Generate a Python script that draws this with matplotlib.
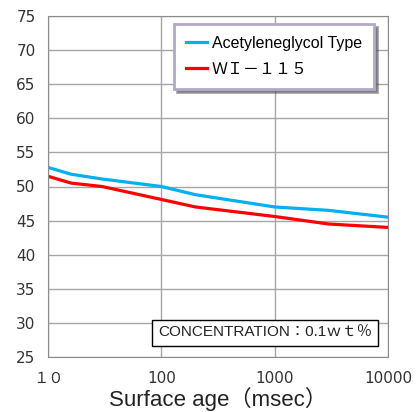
import numpy as np
import matplotlib
matplotlib.use('Agg')
import matplotlib.pyplot as plt

plt.rcParams['font.family'] = ['Liberation Sans', 'Noto Sans CJK JP', 'DejaVu Sans']

# surface age (msec) and surface tension readings
age_ms = [10, 16, 30, 100, 200, 1000, 3000, 10000]
acetylene = [52.8, 51.8, 51.1, 50.0, 48.8, 47.0, 46.5, 45.5]
wi115 = [51.5, 50.5, 50.0, 48.1, 47.0, 45.6, 44.5, 44.0]

xticks = [10, 100, 1000, 10000]
xticklabels = ['１０', '100', '1000', '10000']
yticks = list(range(25, 80, 5))

fig = plt.figure(figsize=(4.19, 4.12), dpi=100)
ax = fig.add_axes([48 / 419, 1 - 357 / 412, 340 / 419, 341 / 412])

ax.plot(age_ms, acetylene, color='#00b0f0', lw=2.3, label='Acetyleneglycol Type')
ax.plot(age_ms, wi115, color='#ff0000', lw=2.3, label='ＷＩ－１１５')

ax.set_xscale('log')
ax.set_xlim(10, 10000)
ax.set_ylim(25, 75)
ax.set_xticks(xticks)
ax.set_xticklabels(xticklabels)
ax.xaxis.set_minor_locator(matplotlib.ticker.NullLocator())
ax.set_yticks(yticks)
ax.tick_params(length=0, labelsize=11, colors='#333333')
for lbl in ax.get_xticklabels() + ax.get_yticklabels():
    lbl.set_family(['DejaVu Sans', 'Noto Sans CJK JP'])
ax.tick_params(axis='x', pad=10)
ax.tick_params(axis='y', pad=9)
ax.grid(True, color='#a6a6a6', lw=1)
ax.set_axisbelow(True)
for s in ax.spines.values():
    s.set_color('#8c8c8c')

ax.set_xlabel('Surface age（msec）', fontsize=16, color='#222222', labelpad=1)

leg = ax.legend(loc='upper right', bbox_to_anchor=(0.959, 0.977), fancybox=False,
                shadow=True, fontsize=11.5, handlelength=1.3, handletextpad=0.3,
                borderpad=0.75, labelspacing=0.7, borderaxespad=0)
leg.get_frame().set_edgecolor('#b4a8c8')
leg.get_frame().set_linewidth(2)

ax.text(0.638, 0.070, 'CONCENTRATION：0.1ｗｔ％', transform=ax.transAxes,
        ha='center', va='center', fontsize=11, color='#222222',
        bbox=dict(boxstyle='square,pad=0.4', fc='white', ec='black', lw=1))

fig.savefig('out.png', dpi=100)
